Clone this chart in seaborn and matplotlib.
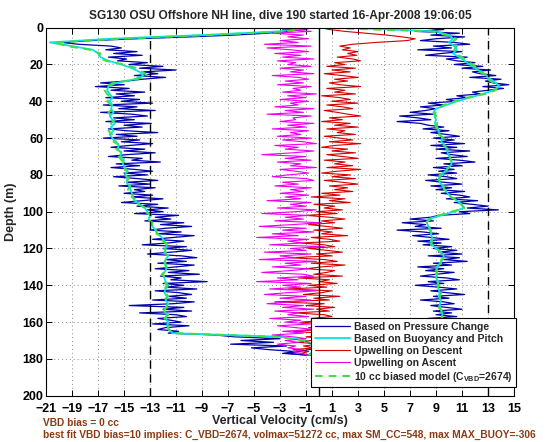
import numpy as np
import pandas as pd
import seaborn as sns
import matplotlib.pyplot as plt

# depth grids (m)
depth_1m = np.arange(0, 179)
depth_2m = np.arange(0, 179, 2)

# descent, pressure change (cm/s), 1 m steps
blue_down = [
    -0.5, -1.2, -2.5, -4.0, -6.5, -10.0, -14.0, -17.5, -19.8, -18.5,
    -16.0, -15.2, -16.4, -14.0, -15.8, -13.6, -16.2, -14.8, -15.5, -13.2,
    -14.6, -12.0, -13.8, -11.0, -13.5, -12.4, -14.2, -11.8, -13.6, -14.8,
    -16.8, -15.0, -17.2, -14.6, -16.0, -13.4, -15.6, -14.2, -16.4, -13.8,
    -15.2, -12.8, -16.6, -14.0, -15.4, -12.6, -16.8, -14.4, -13.2, -15.8,
    -14.2, -16.4, -12.9, -15.0, -13.6, -16.2, -14.8, -12.4, -15.6, -14.0,
    -16.6, -13.8, -15.2, -12.8, -14.6, -16.0, -13.4, -15.0, -12.6, -14.8,
    -16.2, -13.6, -14.4, -12.2, -15.6, -13.8, -16.0, -14.2, -12.8, -15.0,
    -13.2, -15.8, -14.0, -12.4, -14.8, -13.0, -15.4, -12.6, -14.2, -13.4,
    -15.0, -12.8, -14.4, -12.0, -13.6, -15.2, -12.4, -14.0, -11.6, -13.2,
    -12.0, -14.2, -10.8, -12.6, -11.4, -13.4, -10.4, -12.2, -9.8, -11.8,
    -13.0, -10.6, -12.4, -9.6, -11.2, -12.8, -10.4, -11.6, -13.6, -10.2,
    -12.0, -9.8, -11.4, -13.2, -10.6, -9.4, -11.8, -10.2, -12.4, -9.6,
    -11.0, -12.6, -10.0, -11.6, -9.2, -12.2, -10.6, -11.4, -8.6, -12.0,
    -10.4, -11.8, -9.4, -12.6, -10.8, -9.8, -11.6, -10.2, -12.8, -9.6,
    -11.2, -14.6, -10.4, -12.0, -9.8, -13.8, -11.0, -10.2, -12.4, -11.4,
    -10.6, -12.8, -10.0, -11.8, -12.4, -10.8, -11.6, -8.0, -6.5, -3.0,
    -6.0, -3.5, -6.8, -2.5, -5.2, -3.8, -1.8, -2.8, -0.5,
]

# ascent, pressure change (cm/s), 1 m steps
blue_up = [
    8.0, 9.6, 7.4, 10.8, 8.6, 11.2, 9.0, 7.8, 10.4, 11.6,
    8.8, 10.2, 7.6, 11.0, 9.4, 8.2, 11.4, 9.8, 10.6, 12.0,
    10.4, 12.6, 11.0, 13.2, 11.8, 12.4, 13.6, 11.6, 14.0, 12.8,
    13.4, 14.6, 12.6, 14.2, 13.0, 11.8, 12.4, 10.6, 11.4, 9.8,
    10.6, 8.4, 9.6, 7.8, 9.0, 8.2, 7.0, 8.8, 6.2, 7.6,
    8.6, 6.0, 7.8, 8.4, 9.6, 8.0, 10.0, 8.6, 9.8, 10.8,
    8.8, 10.4, 9.2, 11.2, 8.6, 10.6, 9.0, 11.6, 9.4, 10.2,
    11.4, 9.0, 10.8, 12.0, 9.6, 11.0, 8.8, 10.4, 9.2, 10.6,
    8.4, 9.8, 10.6, 8.2, 9.6, 11.0, 8.6, 10.2, 9.0, 11.2,
    9.4, 10.8, 11.6, 9.8, 12.2, 10.4, 11.8, 13.0, 11.4, 13.8,
    10.8, 11.6, 9.2, 8.6, 7.0, 8.8, 6.4, 8.2, 7.4, 9.4,
    6.0, 8.0, 9.2, 7.2, 8.6, 10.0, 7.6, 9.4, 8.0, 10.2,
    8.8, 10.6, 9.2, 11.0, 8.4, 10.8, 9.6, 11.4, 8.8, 10.2,
    7.6, 9.6, 8.2, 10.4, 9.0, 7.8, 9.8, 10.8, 8.4, 9.6,
    7.4, 9.2, 10.6, 8.6, 9.8, 11.2, 8.8, 10.0, 7.8, 9.6,
    10.4, 8.6, 9.8, 11.0, 8.8, 10.2, 9.0, 10.6, 8.4, 9.8,
    10.8, 8.6, 9.4, 10.4, 8.8, 9.6, 8.2, 7.0, 5.0, 3.0,
    4.2, 2.0, 3.4, 1.2, 0.2, -0.8, -1.6, -2.4, -1.0,
]

# upwelling on descent (cm/s), 1 m steps
red_up = [
    0.2, 0.8, 2.0, 3.6, 5.2, 6.4, 7.4, 6.8, 4.4, 2.6,
    1.6, 2.4, 1.8, 3.0, 2.2, 2.9, 1.4, 2.6, 3.2, 1.2,
    2.0, 0.6, 2.8, 1.0, 2.4, 0.4, 1.8, 3.0, 1.2, 2.2,
    0.8, 1.6, 3.2, 0.6, 2.0, 1.2, 2.8, 0.2, 1.6, 2.4,
    1.0, 3.0, 0.6, 1.8, 2.6, 0.4, 1.4, 2.2, 3.2, 0.8,
    1.8, 0.2, 2.4, 1.2, 3.0, 0.6, 2.0, 1.4, 2.8, 0.4,
    1.6, 2.6, 0.8, 3.2, 1.2, 0.2, 2.2, 1.0, 2.8, 0.6,
    1.8, 3.0, 0.4, 2.0, 1.2, 2.6, 0.6, 3.2, 1.4, 0.2,
    2.4, 1.0, 2.8, 0.4, 1.8, 3.0, 0.8, 2.2, 1.2, 2.6,
    0.2, 1.6, -0.6, 2.0, 0.8, 2.4, -0.4, 1.2, 0.4, 1.8,
    -0.2, 1.4, -1.0, 0.8, 2.0, 0.2, 1.2, -0.8, 0.6, 1.8,
    -0.4, 1.0, 0.2, 2.2, -0.6, 0.8, 1.6, -1.4, 0.4, 1.2,
    -0.8, 0.6, 1.8, -0.2, 1.0, -2.2, 0.4, 1.4, -0.6, 2.0,
    0.2, -1.0, 1.2, 0.6, -0.4, 1.8, -1.6, 0.8, 0.0, 1.4,
    -0.8, 0.6, -2.4, 1.0, 0.2, -1.2, 1.6, -0.4, 0.8, -3.4,
    0.4, -1.0, 1.2, -0.2, 0.8, -1.8, 0.4, 1.0, -0.6, 0.6,
    -1.4, 0.2, 0.8, -0.8, 0.4, -2.0, 0.0, 0.6, -1.0, 0.2,
    -0.6, -1.6, 0.2, -1.2, -0.4, -2.0, -0.8, -1.4, -0.6,
]

# upwelling on ascent (cm/s), 1 m steps
magenta_up = [
    -0.4, -2.8, -0.6, -3.6, -1.2, -2.4, -0.8, -3.0, -1.6, -4.2,
    -0.6, -4.0, -2.2, -0.8, -3.4, -1.4, -2.8, -0.4, -3.2, -1.8,
    -2.4, -0.6, -3.0, -1.2, -2.2, -0.4, -3.6, -1.6, -0.8, -2.6,
    -1.2, -3.2, -0.6, -2.0, -1.4, -2.8, -0.2, -2.4, -1.0, -3.0,
    -0.8, -2.2, -1.6, -3.4, -0.4, -2.6, -1.2, -4.0, -0.6, -2.0,
    -1.8, -3.0, -0.4, -2.4, -1.0, -3.6, -0.8, -2.2, -1.4, -3.2,
    -0.6, -2.8, -1.2, -0.2, -3.4, -1.6, -2.6, -0.4, -2.0, -4.4,
    -1.0, -2.6, -0.6, -3.2, -1.4, -2.2, -0.2, -3.0, -1.8, -0.8,
    -2.4, -3.6, -1.0, -0.4, -2.8, -1.6, -3.4, -0.6, -2.2, -1.2,
    -3.0, -0.8, -2.6, -1.4, -4.0, -0.6, -2.2, -1.0, -3.2, -0.2,
    -1.8, -4.4, -0.8, -2.6, -1.2, -3.4, 0.2, -2.0, -4.6, -1.0,
    -2.8, -0.4, -3.6, -1.6, -4.8, -0.8, -2.4, -1.2, -3.8, 0.4,
    -2.2, -1.0, -4.2, -0.6, -3.0, -1.8, -4.6, -0.2, -2.6, -1.4,
    -3.6, -0.8, -2.2, -4.4, -1.2, -0.4, -3.2, -1.6, -4.8, -0.6,
    -2.8, -1.4, -3.8, -0.2, -2.4, -4.2, -1.0, -3.0, -0.6, -2.2,
    -4.0, -1.2, -2.8, -0.4, -3.4, -1.6, -2.4, -0.8, -3.8, -1.4,
    -2.6, -0.6, -3.2, -1.8, -0.4, -2.8, -1.2, -3.6, -2.0, -1.0,
    -2.6, -1.6, -3.2, -1.8, -2.4, -1.2, -2.0, -1.4, -0.8,
]

# buoyancy/pitch model, descent and ascent, 2 m steps
cyan_down = [
    -1.0, -3.0, -9.0, -16.0, -20.7, -19.0, -17.4, -17.0, -16.8, -16.2,
    -15.2, -14.4, -13.8, -13.5, -14.2, -15.6, -16.2, -16.3, -16.1, -15.9,
    -16.1, -15.9, -16.0, -15.8, -16.1, -15.9, -15.7, -16.0, -15.8, -16.1,
    -15.9, -15.6, -15.4, -15.5, -15.2, -15.3, -15.0, -15.1, -14.9, -14.8,
    -14.9, -14.7, -14.8, -14.6, -14.5, -14.4, -14.3, -14.2, -13.8, -13.4,
    -13.2, -13.0, -13.1, -12.9, -12.8, -12.6, -12.4, -12.1, -11.9, -11.7,
    -11.8, -11.9, -11.6, -11.8, -11.9, -11.7, -11.8, -12.0, -11.9, -11.8,
    -11.6, -11.8, -11.9, -11.7, -11.8, -11.6, -11.8, -11.9, -11.7, -11.8,
    -11.6, -11.7, -11.5, -11.3, -3.0, -1.0, -0.6, -0.3, -0.2, -0.1,
]
cyan_up = [
    2.0, 9.0, 10.0, 10.3, 10.0, 10.4, 10.6, 10.3, 10.8, 11.2,
    11.6, 12.0, 12.5, 12.9, 13.2, 13.6, 13.9, 13.4, 12.6, 11.6,
    10.6, 9.8, 9.0, 8.8, 8.9, 9.0, 8.9, 9.1, 9.2, 9.3,
    9.5, 9.4, 9.7, 9.8, 9.9, 10.0, 10.2, 10.2, 10.0, 9.7,
    9.4, 9.2, 9.3, 9.5, 9.7, 9.9, 10.2, 10.6, 11.0, 11.1,
    10.4, 9.4, 8.4, 8.3, 8.4, 8.6, 8.6, 8.7, 8.6, 8.7,
    9.0, 9.4, 9.6, 9.5, 9.3, 9.1, 9.0, 9.1, 9.0, 9.2,
    9.1, 9.2, 9.3, 9.2, 9.4, 9.3, 9.3, 9.4, 9.5, 9.4,
    9.6, 9.5, 9.4, 9.2, 8.0, 5.0, 2.0, 0.5, -0.5, -0.8,
]

# 10 cc biased model, 2 m steps
green_down = [
    -0.8, -2.6, -8.4, -15.2, -20.4, -19.4, -17.6, -16.8, -17.0, -16.4,
    -15.0, -14.0, -13.6, -13.2, -14.0, -15.8, -16.4, -16.5, -16.3, -16.0,
    -16.3, -16.0, -15.8, -16.2, -16.0, -15.7, -16.0, -15.9, -16.2, -15.9,
    -15.7, -15.8, -15.3, -15.6, -15.1, -15.4, -15.2, -14.9, -15.0, -14.7,
    -15.0, -14.6, -14.9, -14.5, -14.7, -14.3, -14.4, -14.0, -13.9, -13.3,
    -13.4, -12.9, -13.2, -12.8, -12.9, -12.5, -12.5, -12.0, -12.0, -11.6,
    -11.9, -11.8, -11.7, -11.9, -11.8, -11.8, -11.7, -12.1, -11.8, -11.9,
    -11.7, -11.9, -11.8, -11.6, -11.9, -11.7, -11.7, -12.0, -11.6, -11.9,
    -11.7, -11.6, -11.6, -11.2, -3.2, -1.2, -0.7, -0.4, -0.2, -0.1,
]
green_up = [
    0.0, 8.6, 9.8, 10.6, 10.2, 10.6, 10.4, 10.5, 11.0, 11.4,
    11.8, 12.2, 12.3, 13.1, 13.0, 13.4, 13.7, 13.6, 12.8, 11.4,
    10.4, 9.6, 9.2, 8.9, 9.0, 8.8, 9.1, 9.0, 9.3, 9.2,
    9.6, 9.5, 9.6, 9.9, 9.8, 10.1, 10.1, 10.3, 9.9, 9.8,
    9.3, 9.3, 9.2, 9.6, 9.6, 10.0, 10.1, 10.7, 10.9, 11.2,
    10.2, 9.2, 8.6, 8.2, 8.5, 8.5, 8.7, 8.6, 8.7, 8.6,
    9.1, 9.3, 9.7, 9.4, 9.4, 9.0, 9.1, 9.0, 9.1, 9.1,
    9.2, 9.1, 9.4, 9.3, 9.3, 9.4, 9.2, 9.5, 9.4, 9.5,
    9.5, 9.6, 9.3, 9.3, 7.8, 5.2, 2.2, 0.6, -0.4, -0.8,
]

x_ticks = list(range(-21, 16, 2))
y_ticks = list(range(0, 201, 20))

title = 'SG130 OSU Offshore NH line, dive 190 started 16-Apr-2008 19:06:05'
note1 = 'VBD bias = 0 cc'
note2 = ('best fit VBD bias=10 implies: C_VBD=2674, volmax=51272 cc, '
         'max SM_CC=548, max MAX_BUOY=-306')

sns.set_style('ticks')
plt.rcParams['font.family'] = ['Liberation Sans', 'DejaVu Sans']
plt.rcParams['font.weight'] = 'bold'
plt.rcParams['axes.labelweight'] = 'bold'
plt.rcParams['axes.titleweight'] = 'bold'
plt.rcParams['mathtext.fontset'] = 'custom'
plt.rcParams['mathtext.rm'] = 'Liberation Sans:bold'
plt.rcParams['mathtext.it'] = 'Liberation Sans:bold'
plt.rcParams['mathtext.bf'] = 'Liberation Sans:bold'
plt.rcParams['xtick.direction'] = 'in'
plt.rcParams['ytick.direction'] = 'in'

fig = plt.figure(figsize=(5.6, 4.42), dpi=100)
ax = fig.add_axes([46 / 560, 1 - 395.7 / 442, 468 / 560, 368 / 442])


def trace(x, d, color, label, lw=0.8, **kw):
    sns.lineplot(x=x, y=d, sort=False, estimator=None, orient='y',
                 color=color, label=label, linewidth=lw, ax=ax, **kw)


blue = '#0000AA'
cyan = '#00E6E6'
red = '#D40000'
magenta = '#EE00EE'
green = '#44DD44'

trace(blue_down, depth_1m, blue, 'Based on Pressure Change', lw=0.9)
trace(blue_up, depth_1m, blue, '_nolegend_', lw=0.9)
trace(cyan_down, depth_2m, cyan, 'Based on Buoyancy and Pitch', lw=1.3)
trace(cyan_up, depth_2m, cyan, '_nolegend_', lw=1.3)
trace(red_up, depth_1m, red, 'Upwelling on Descent', lw=0.8)
trace(magenta_up, depth_1m, magenta, 'Upwelling on Ascent', lw=0.8)
trace(green_down, depth_2m, green, r'10 cc biased model (C$_{VBD}$=2674)',
      lw=1.4, linestyle=(0, (4, 3)))
trace(green_up, depth_2m, green, '_nolegend_', lw=1.4, linestyle=(0, (4, 3)))

ax.axvline(0, color='black', lw=1.0, zorder=5)
for xv in (-13, 13):
    ax.axvline(xv, color='black', lw=1.0, linestyle=(0, (6, 4)), zorder=5)

ax.set_xlim(-21, 15)
ax.set_ylim(200, 0)
ax.set_xticks(x_ticks)
ax.set_yticks(y_ticks)
ax.tick_params(labelsize=9, length=4, width=0.7, top=True, right=True,
               colors='black')
ax.tick_params(axis='x', pad=5)
ax.tick_params(axis='y', pad=2)
ax.grid(True, linestyle=(0, (1, 3)), color='0.55', linewidth=0.7)
ax.set_axisbelow(True)
for s in ax.spines.values():
    s.set_color('black')
    s.set_linewidth(0.8)

ax.set_xlabel('Vertical Velocity (cm/s)', fontsize=9, labelpad=0)
ax.set_ylabel('Depth (m)', fontsize=9, labelpad=4)
ax.set_title(title, fontsize=8.6, pad=6)

leg = ax.legend(loc='lower right', bbox_to_anchor=(516 / 560, 1 - 387 / 442),
                bbox_transform=fig.transFigure, fontsize=7.5, frameon=True,
                fancybox=False, edgecolor='black', framealpha=1,
                handlelength=3.4, labelspacing=0.2, borderpad=0.3,
                handletextpad=0.4, borderaxespad=0)
leg.get_frame().set_linewidth(0.8)
leg.set_zorder(10)

brown = '#8B3A12'
fig.text(43 / 560, 1 - 423 / 442, note1, color=brown, fontsize=7.3,
         fontweight='bold', va='center')
fig.text(43 / 560, 1 - 435 / 442, note2, color=brown, fontsize=7.3,
         fontweight='bold', va='center')

plt.savefig('out.png', dpi=100)
